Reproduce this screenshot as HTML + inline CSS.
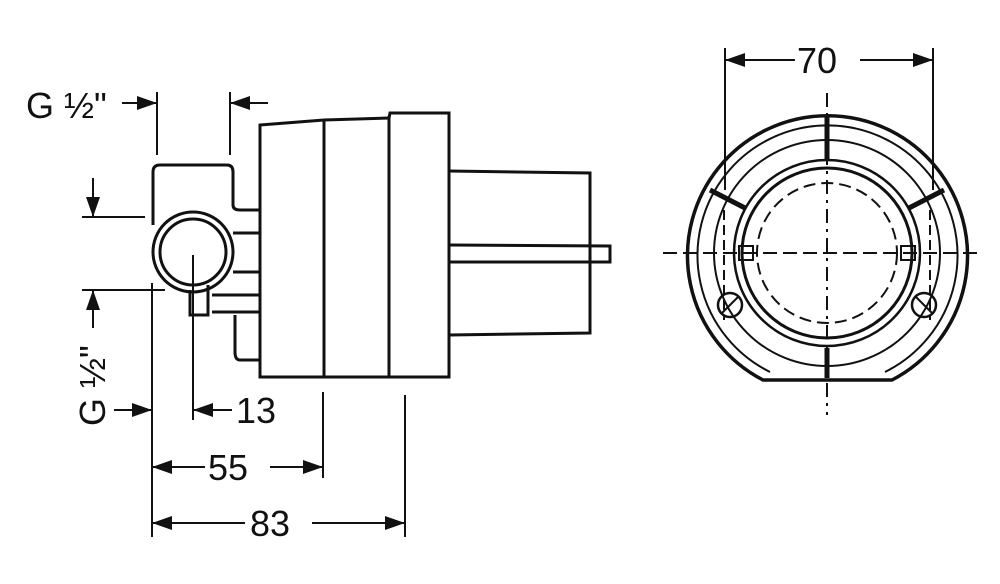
<!DOCTYPE html>
<html><head><style>body{margin:0;background:#fff}svg{display:block}text{font-family:"Liberation Sans",sans-serif;font-size:36px;fill:#111}</style></head><body>
<svg width="1000" height="584" viewBox="0 0 1000 584" xmlns="http://www.w3.org/2000/svg">
<defs>
<marker id="b" viewBox="0 0 20 14" refX="20" refY="7" markerWidth="20" markerHeight="14" orient="auto" markerUnits="userSpaceOnUse"><path d="M0,0L20,7L0,14z" fill="#111"/></marker></defs>
<g fill="none" stroke="#111" stroke-width="3">
<path d="M260,125 L324,120 L389,118 L390,113 L449,113 L449,377 L260,377 Z"/>
<line x1="324" y1="120" x2="324" y2="377"/><line x1="389" y1="116" x2="389" y2="377"/>
<path d="M449,171 L590,173 L590,333 L449,335"/>
<path d="M449,245 L610,246 L610,262 L449,262"/>
<path d="M153,225 L153,172 Q153,165 160,165 L227,165 Q233,165 233,172 L233,205 Q233,210 240,210 L260,210"/>
<circle cx="193" cy="252" r="40"/><circle cx="193" cy="252" r="33"/>
<path d="M233,233 L260,233 M233,272 L260,272 M212,295 L260,295 M212,312 L260,312"/>
<path d="M190,290 L190,315 L208,315 L208,285"/>
<path d="M260,360 L240,360 Q235,360 235,352 L235,315"/>
</g>
<g stroke="#111" stroke-width="2" fill="none">
<line x1="157" y1="92" x2="157" y2="155"/><line x1="230" y1="92" x2="230" y2="155"/>
<line x1="122" y1="103" x2="157" y2="103" marker-end="url(#b)"/>
<line x1="268" y1="103" x2="230" y2="103" marker-end="url(#b)"/>
<line x1="82" y1="217" x2="145" y2="217"/><line x1="82" y1="290" x2="165" y2="290"/>
<line x1="93" y1="178" x2="93" y2="217" marker-end="url(#b)"/>
<line x1="93" y1="328" x2="93" y2="290" marker-end="url(#b)"/>
<line x1="114" y1="410" x2="152" y2="410" marker-end="url(#b)"/>
<line x1="152" y1="283" x2="152" y2="537"/>
<line x1="193" y1="255" x2="193" y2="420"/>
<line x1="232" y1="410" x2="193" y2="410" marker-end="url(#b)"/>
<line x1="323" y1="392" x2="323" y2="478"/><line x1="405" y1="395" x2="405" y2="537"/>
<line x1="205" y1="467" x2="152" y2="467" marker-end="url(#b)"/><line x1="270" y1="467" x2="323" y2="467" marker-end="url(#b)"/>
<line x1="245" y1="523" x2="152" y2="523" marker-end="url(#b)"/><line x1="312" y1="523" x2="405" y2="523" marker-end="url(#b)"/>
<line x1="725" y1="48" x2="725" y2="190"/><line x1="933" y1="48" x2="933" y2="190"/>
<line x1="795" y1="60" x2="725" y2="60" marker-end="url(#b)"/><line x1="860" y1="60" x2="933" y2="60" marker-end="url(#b)"/>
</g>
<text x="26" y="118">G ½"</text>
<text x="236" y="423">13</text>
<text x="208" y="480">55</text>
<text x="250" y="536">83</text>
<text x="797" y="73">70</text>
<text transform="translate(105,426) rotate(-90)">G ½"</text>
<g fill="none" stroke="#111">
<path d="M763,380 A140,140 0 1 1 892,380 Z" stroke-width="3.5"/>
<path d="M770,372 A130,130 0 1 1 885,372" stroke-width="2"/>
<circle cx="827" cy="253" r="113" stroke-width="2"/>
<circle cx="827" cy="253" r="93" stroke-width="2.5"/>
<circle cx="827" cy="253" r="85" stroke-width="3"/>
<circle cx="827" cy="253" r="70" stroke-width="2" stroke-dasharray="12,6"/>
<line x1="827" y1="116" x2="827" y2="160" stroke-width="5"/>
<line x1="827" y1="348" x2="827" y2="378" stroke-width="5"/>
<line x1="710" y1="190" x2="745" y2="208" stroke-width="5"/>
<line x1="944" y1="190" x2="909" y2="208" stroke-width="5"/>
<line x1="827" y1="93" x2="827" y2="415" stroke-width="2" stroke-dasharray="14,6,3,6"/>
<line x1="663" y1="253" x2="978" y2="253" stroke-width="2" stroke-dasharray="14,6"/>
<rect x="739" y="246" width="14" height="14" stroke-width="2"/><rect x="901" y="246" width="14" height="14" stroke-width="2"/>
<path d="M724,210 L724,320 M930,210 L930,320" stroke-width="2" stroke-dasharray="10,5"/>
<circle cx="730" cy="305" r="12" stroke-width="2.5"/><circle cx="924" cy="305" r="12" stroke-width="2.5"/>
<path d="M722,313 L738,297 M916,297 L932,313" stroke-width="2"/>
</g>
</svg>
</body></html>
